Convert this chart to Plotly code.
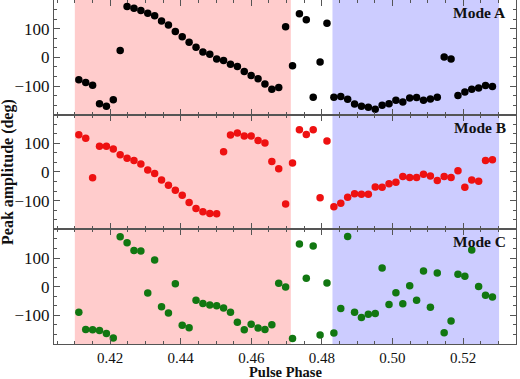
import plotly.graph_objects as go
from plotly.subplots import make_subplots

# Pulse phase bins (1/512 of a period), 61 bins
bin_index = list(range(210, 271))
phase = [(n + 0.5) / 512 for n in bin_index]

mode_a = [-78, -88, -97, -162, -171, -148, 24, 177, 171, 163,
          154, 145, 127, 113, 90, 72, 53, 35, 19, 11,
          -6, -11, -24, -32, -49, -63, -75, -93, -111, -105,
          107, -29, 152, 131, -139, -16, 119, -139, -137, -146,
          -163, -171, -174, -181, -167, -162, -150, -156, -142, -140,
          -150, -145, -139, 1, -6, -133, -121, -111, -107, -98,
          -102]

mode_b = [130, 118, -20, 90, 90, 80, 60, 48, 40, 28,
          7, -5, -28, -46, -64, -81, -106, -127, -139, -145,
          -146, 71, 129, 136, 126, 126, 110, 101, 37, 11,
          -112, 31, 147, 131, 147, -90, 108, -121, -109, -88,
          -76, -78, -78, -52, -53, -41, -36, -16, -19, -19,
          -8, -14, -30, -16, -19, 4, -53, -28, -32, 40,
          43]

mode_c = [-89, -149, -150, -153, -163, -179, 174, 153, 126, 124,
          -22, 93, -70, -92, 10, -135, -143, -47, -59, -64,
          -67, -74, -89, -124, -150, -131, -144, -149, -133, 12,
          -1, -181, 149, 29, 142, -169, 13, -162, -76, 175,
          -89, -108, -96, -94, 65, -62, -21, -60, 3, -47,
          55, -72, 48, -161, -120, 43, 36, 128, 1, -30,
          -36]

series = [("Mode A", mode_a, "#000000"),
          ("Mode B", mode_b, "#ee1111"),
          ("Mode C", mode_c, "#117711")]

pink_span = (0.41, 0.4712)
blue_span = (0.4830, 0.5302)
x_range = [0.4041, 0.535]
y_range = [-200, 200]
x_ticks = [0.42, 0.44, 0.46, 0.48, 0.50, 0.52]
x_ticktext = ["0.42", "0.44", "0.46", "0.48", "0.50", "0.52"]
y_ticks = [-100, 0, 100]

fig = make_subplots(rows=3, cols=1, shared_xaxes=True, vertical_spacing=0)

for i, (name, vals, col) in enumerate(series, start=1):
    fig.add_trace(go.Scatter(x=phase, y=vals, mode="markers", name=name,
                             marker=dict(size=7.5, color=col, line=dict(width=0)),
                             showlegend=False), row=i, col=1)

for (x0, x1), fc in [(pink_span, "#ffcccc"), (blue_span, "#ccccff")]:
    fig.add_shape(type="rect", xref="x", yref="paper", x0=x0, x1=x1, y0=0, y1=1,
                  fillcolor=fc, line=dict(width=0), layer="below")

serif = "Liberation Serif"
ytickfont = dict(family=serif, size=17, color="#111111")
xtickfont = dict(family=serif, size=15, color="#111111")
axcol = "#555555"

for i in range(1, 4):
    fig.update_xaxes(row=i, col=1, range=x_range, showline=True, linecolor=axcol,
                     linewidth=1, mirror="allticks", ticks="inside", ticklen=6,
                     tickcolor=axcol, tickvals=x_ticks, ticktext=x_ticktext,
                     showticklabels=(i == 3), showgrid=False, zeroline=False,
                     tickfont=xtickfont, automargin=False,
                     minor=dict(dtick=0.005, tick0=0.0, ticklen=3, tickcolor=axcol,
                                ticks="inside", showgrid=False))
    fig.update_yaxes(row=i, col=1, range=y_range, showline=True, linecolor=axcol,
                     linewidth=1, mirror="allticks", ticks="inside", ticklen=6,
                     tickcolor=axcol, tickvals=y_ticks, showgrid=False,
                     zeroline=False, tickfont=ytickfont, automargin=False,
                     minor=dict(dtick=100 / 3, tick0=0, ticklen=3, tickcolor=axcol,
                                ticks="inside", showgrid=False))

# Axis titles as annotations (fixed positions)
fig.add_annotation(text="<b>Pulse Phase</b>", xref="paper", yref="paper",
                   x=0.5, y=-0.0828, xanchor="center", yanchor="middle",
                   showarrow=False, borderpad=0,
                   font=dict(family=serif, size=14.5, color="#111111"))
fig.add_annotation(text="<b>Peak amplitude (deg)</b>", xref="paper", yref="paper",
                   x=-0.0996, y=0.5, xanchor="center", yanchor="middle", textangle=-90,
                   showarrow=False, font=dict(family=serif, size=16, color="#111111"))

for i, (name, vals, col) in enumerate(series, start=1):
    yref = "y domain" if i == 1 else f"y{i} domain"
    fig.add_annotation(text=f"<b>{name}</b>", xref="paper", yref=yref,
                       x=0.9827, y=0.89, xanchor="right", yanchor="middle",
                       showarrow=False, font=dict(family=serif, size=15.5, color="#111111"))

fig.update_layout(width=520, height=379, margin=dict(l=54, r=4, t=0, b=35),
                  plot_bgcolor="white", paper_bgcolor="white")

fig.write_html("out.html", config={"displayModeBar": False},
               post_script="document.body.style.margin='0';document.body.style.padding='0';")
